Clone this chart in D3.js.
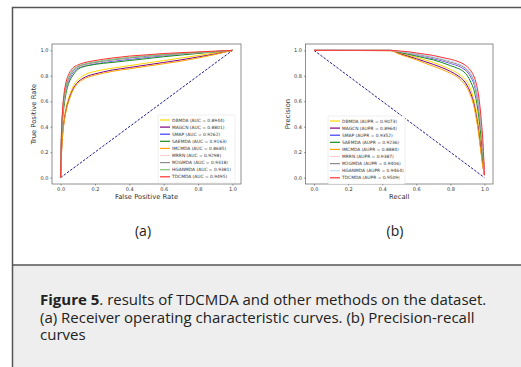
<!DOCTYPE html>
<html>
<head>
<meta charset="utf-8">
<script src="https://cdn.jsdelivr.net/npm/d3@7"></script>
<style>
  body { margin: 0; background: #fff; }
  #chart { position: relative; width: 521px; height: 367px; overflow: hidden; }
  svg { display: block; }
  #leyenda-figura {
    position: absolute; left: 40px; top: 291.4px; margin: 0;
    font-family: "Open Sans"; font-size: 15px; line-height: 17.5px; color: #222; white-space: nowrap;
  }
</style>
</head>
<body>
<div id="chart"></div>
<script>
// series names, colours, scores
const metodos = ["DBMDA", "MAGCN", "SMAP", "SAEMDA", "IMCMDA", "MRRN ", "M2GMDA", "HGANMDA ", "TDCMDA"]
const colores = ["#ffd700", "#800080", "#3b3bff", "#1a8a1a", "#ffa500", "#ffd0d8", "#8c8c8c", "#7cc47c", "#ff3030"]
const coloresPR = ["#ffd700", "#800080", "#3b3bff", "#1a8a1a", "#ffa500", "#ffd0d8", "#8c8c8c", "#bfe0f5", "#ff3030"]
const etiquetasAUC = ["0.8944", "0.8801", "0.9262", "0.9163", "0.8685", "0.9298", "0.9318", "0.9381", "0.9495"]
const etiquetasAUPR = ["0.9073", "0.8964", "0.9352", "0.9236", "0.8884", "0.9387", "0.9406", "0.9464", "0.9509"]

// ROC: false positive rate grid and true positive rate per method
const fpr = [0, 0.005, 0.01, 0.02, 0.03, 0.05, 0.07, 0.1, 0.13, 0.16, 0.2, 0.3, 0.4, 0.5, 0.6, 0.7, 0.8, 0.9, 1.0]
const tprDBMDA   = [0, 0.2, 0.33, 0.46, 0.54, 0.64, 0.71, 0.77, 0.8, 0.82, 0.835, 0.86, 0.88, 0.9, 0.92, 0.94, 0.96, 0.98, 1]
const tprMAGCN   = [0, 0.19, 0.31, 0.44, 0.52, 0.62, 0.69, 0.75, 0.78, 0.8, 0.815, 0.845, 0.865, 0.885, 0.905, 0.925, 0.948, 0.972, 1]
const tprSMAP    = [0, 0.3, 0.45, 0.59, 0.68, 0.77, 0.82, 0.86, 0.875, 0.885, 0.895, 0.915, 0.93, 0.945, 0.958, 0.97, 0.98, 0.99, 1]
const tprSAEMDA  = [0, 0.28, 0.42, 0.56, 0.65, 0.75, 0.8, 0.85, 0.87, 0.88, 0.89, 0.905, 0.92, 0.935, 0.95, 0.963, 0.976, 0.988, 1]
const tprIMCMDA  = [0, 0.18, 0.3, 0.43, 0.51, 0.61, 0.68, 0.74, 0.77, 0.79, 0.805, 0.835, 0.855, 0.875, 0.895, 0.915, 0.94, 0.968, 1]
const tprMRRN    = [0, 0.31, 0.46, 0.6, 0.69, 0.78, 0.83, 0.865, 0.88, 0.89, 0.9, 0.92, 0.935, 0.95, 0.962, 0.972, 0.982, 0.99, 1]
const tprM2GMDA  = [0, 0.32, 0.47, 0.62, 0.7, 0.79, 0.835, 0.87, 0.885, 0.895, 0.905, 0.925, 0.94, 0.953, 0.964, 0.974, 0.983, 0.991, 1]
const tprHGANMDA = [0, 0.33, 0.48, 0.63, 0.72, 0.8, 0.845, 0.875, 0.89, 0.9, 0.91, 0.93, 0.945, 0.958, 0.968, 0.977, 0.985, 0.992, 1]
const tprTDCMDA  = [0, 0.35, 0.5, 0.66, 0.74, 0.82, 0.86, 0.885, 0.9, 0.91, 0.92, 0.94, 0.955, 0.965, 0.975, 0.982, 0.988, 0.994, 1]

// PR: recall grid and precision per method
const recall = [0, 0.45, 0.5, 0.55, 0.6, 0.65, 0.7, 0.75, 0.8, 0.85, 0.88, 0.9, 0.92, 0.94, 0.95, 0.96, 0.97, 0.98, 0.99, 1.0]
const precDBMDA   = [1, 1, 0.98, 0.962, 0.945, 0.925, 0.905, 0.88, 0.85, 0.815, 0.78, 0.75, 0.69, 0.6, 0.54, 0.46, 0.36, 0.24, 0.12, 0.02]
const precMAGCN   = [1, 0.998, 0.975, 0.955, 0.935, 0.912, 0.89, 0.865, 0.835, 0.795, 0.76, 0.72, 0.66, 0.57, 0.5, 0.42, 0.32, 0.21, 0.1, 0.02]
const precSMAP    = [1, 1, 0.99, 0.978, 0.964, 0.95, 0.935, 0.918, 0.898, 0.876, 0.853, 0.83, 0.79, 0.73, 0.675, 0.61, 0.51, 0.38, 0.21, 0.02]
const precSAEMDA  = [1, 1, 0.985, 0.97, 0.955, 0.94, 0.925, 0.905, 0.88, 0.855, 0.83, 0.8, 0.75, 0.68, 0.62, 0.54, 0.44, 0.31, 0.17, 0.02]
const precIMCMDA  = [1, 0.997, 0.97, 0.948, 0.925, 0.9, 0.875, 0.85, 0.82, 0.78, 0.74, 0.7, 0.64, 0.55, 0.48, 0.4, 0.3, 0.19, 0.09, 0.02]
const precMRRN    = [1, 1, 0.99, 0.98, 0.967, 0.953, 0.94, 0.923, 0.903, 0.882, 0.86, 0.837, 0.8, 0.745, 0.69, 0.625, 0.53, 0.4, 0.23, 0.02]
const precM2GMDA  = [1, 1, 0.992, 0.982, 0.97, 0.957, 0.944, 0.928, 0.908, 0.888, 0.868, 0.845, 0.81, 0.755, 0.705, 0.64, 0.55, 0.42, 0.25, 0.02]
const precHGANMDA = [1, 1, 0.993, 0.985, 0.975, 0.962, 0.95, 0.935, 0.915, 0.895, 0.875, 0.855, 0.82, 0.77, 0.72, 0.66, 0.57, 0.44, 0.27, 0.02]
const precTDCMDA  = [1, 1, 0.995, 0.99, 0.98, 0.97, 0.96, 0.945, 0.93, 0.91, 0.89, 0.87, 0.84, 0.79, 0.75, 0.69, 0.6, 0.47, 0.3, 0.02]

const tickValores = [0, 0.2, 0.4, 0.6, 0.8, 1.0]

const tprSeries = [tprDBMDA, tprMAGCN, tprSMAP, tprSAEMDA, tprIMCMDA, tprMRRN, tprM2GMDA, tprHGANMDA, tprTDCMDA]
const precSeries = [precDBMDA, precMAGCN, precSMAP, precSAEMDA, precIMCMDA, precMRRN, precM2GMDA, precHGANMDA, precTDCMDA]

const ancho = 521
const alto = 367
const svg = d3.select("#chart").append("svg").attr("width", ancho).attr("height", alto)

// caption area
svg.append("rect").attr("x", 13).attr("y", 265).attr("width", ancho).attr("height", alto - 265).attr("fill", "#eeeeee")
svg.append("line").attr("x1", 13).attr("x2", ancho).attr("y1", 265).attr("y2", 265).attr("stroke", "#555").attr("stroke-width", 1.5)
// frame
svg.append("path").attr("d", `M12.5,${alto} V7.5 H${ancho}`).attr("fill", "none").attr("stroke", "#555").attr("stroke-width", 1.5)

function panel(opts) {
  const g = svg.append("g")
  const x = d3.scaleLinear().domain([-0.05, 1.05]).range([opts.izq, opts.der])
  const y = d3.scaleLinear().domain([-0.05, 1.05]).range([opts.abajo, opts.arriba])

  const ejeX = d3.axisBottom(x).tickValues(tickValores).tickFormat(d3.format(".1f")).tickSize(1.5).tickPadding(2)
  const ejeY = d3.axisLeft(y).tickValues(tickValores).tickFormat(d3.format(".1f")).tickSize(1.5).tickPadding(2)
  const gx = g.append("g").attr("transform", `translate(0,${opts.abajo})`).call(ejeX)
  const gy = g.append("g").attr("transform", `translate(${opts.izq},0)`).call(ejeY)
  for (const ga of [gx, gy]) {
    ga.select(".domain").remove()
    ga.selectAll("text").attr("font-size", 5).attr("font-family", "DejaVu Sans").attr("fill", "#333")
    ga.selectAll("line").attr("stroke", "#333").attr("stroke-width", 0.5)
  }
  g.append("rect").attr("x", opts.izq).attr("y", opts.arriba)
    .attr("width", opts.der - opts.izq).attr("height", opts.abajo - opts.arriba)
    .attr("fill", "none").attr("stroke", "#444").attr("stroke-width", 0.6)

  g.append("text").attr("x", (opts.izq + opts.der) / 2).attr("y", 199)
    .attr("text-anchor", "middle").attr("font-size", 6.8).attr("font-family", "DejaVu Sans").attr("fill", "#333")
    .text(opts.etiquetaX)
  g.append("text").attr("transform", `translate(${opts.izq - 16},${(opts.arriba + opts.abajo) / 2}) rotate(-90)`)
    .attr("text-anchor", "middle").attr("font-size", 6.8).attr("font-family", "DejaVu Sans").attr("fill", "#333")
    .text(opts.etiquetaY)

  // diagonal reference
  g.append("line").attr("x1", x(0)).attr("y1", y(opts.diag[0])).attr("x2", x(1)).attr("y2", y(opts.diag[1]))
    .attr("stroke", "#00008b").attr("stroke-width", 0.9).attr("stroke-dasharray", "2.5,1.5")

  const linea = d3.line().x(d => x(d[0])).y(d => y(d[1])).curve(d3.curveMonotoneX)
  opts.series.forEach((s, i) => {
    g.append("path").datum(opts.xs.map((v, j) => [v, s[j]]))
      .attr("d", linea).attr("fill", "none").attr("stroke", opts.colores[i]).attr("stroke-width", 1)
  })

  // legend
  const lg = g.append("g").attr("transform", `translate(${opts.leyenda[0]},${opts.leyenda[1]})`)
  lg.append("rect").attr("width", 77).attr("height", 68).attr("rx", 1.5)
    .attr("fill", "#fff").attr("stroke", "#ddd").attr("stroke-width", 0.5)
  opts.etiquetas.forEach((t, i) => {
    const yy = 5 + i * 7.1
    lg.append("line").attr("x1", 2).attr("x2", 12).attr("y1", yy).attr("y2", yy)
      .attr("stroke", opts.colores[i]).attr("stroke-width", 1.2)
    lg.append("text").attr("x", 14).attr("y", yy + 1.6).attr("font-size", 4.4)
      .attr("font-family", "DejaVu Sans").attr("fill", "#333").text(t)
  })

  svg.append("text").attr("x", opts.centroEtiqueta).attr("y", 236).attr("text-anchor", "middle")
    .attr("font-size", 14).attr("font-family", "Open Sans").attr("fill", "#222").text(opts.panelEtiqueta)
}

panel({
  izq: 52, der: 241, arriba: 44, abajo: 184,
  etiquetaX: "False Positive Rate", etiquetaY: "True Positive Rate",
  diag: [0, 1], xs: fpr, series: tprSeries, colores: colores,
  etiquetas: metodos.map((m, i) => `${m} (AUC = ${etiquetasAUC[i]})`),
  leyenda: [158, 115], centroEtiqueta: 143, panelEtiqueta: "(a)"
})
panel({
  izq: 305.5, der: 493, arriba: 44, abajo: 184,
  etiquetaX: "Recall", etiquetaY: "Precision",
  diag: [1, 0], xs: recall, series: precSeries, colores: coloresPR,
  etiquetas: metodos.map((m, i) => `${m} (AUPR = ${etiquetasAUPR[i]})`),
  leyenda: [328, 116], centroEtiqueta: 395, panelEtiqueta: "(b)"
})

// caption as HTML text block
const cap = d3.select("#chart").append("p").attr("id", "leyenda-figura")
cap.append("b").text("Figure 5")
cap.append("span").text(". results of TDCMDA and other methods on the dataset.")
cap.append("br")
cap.append("span").text("(a) Receiver operating characteristic curves. (b) Precision-recall")
cap.append("br")
cap.append("span").text("curves")
d3.select("#chart").style("position", "relative")
cap.style("position", "absolute")
</script>
</body>
</html>
